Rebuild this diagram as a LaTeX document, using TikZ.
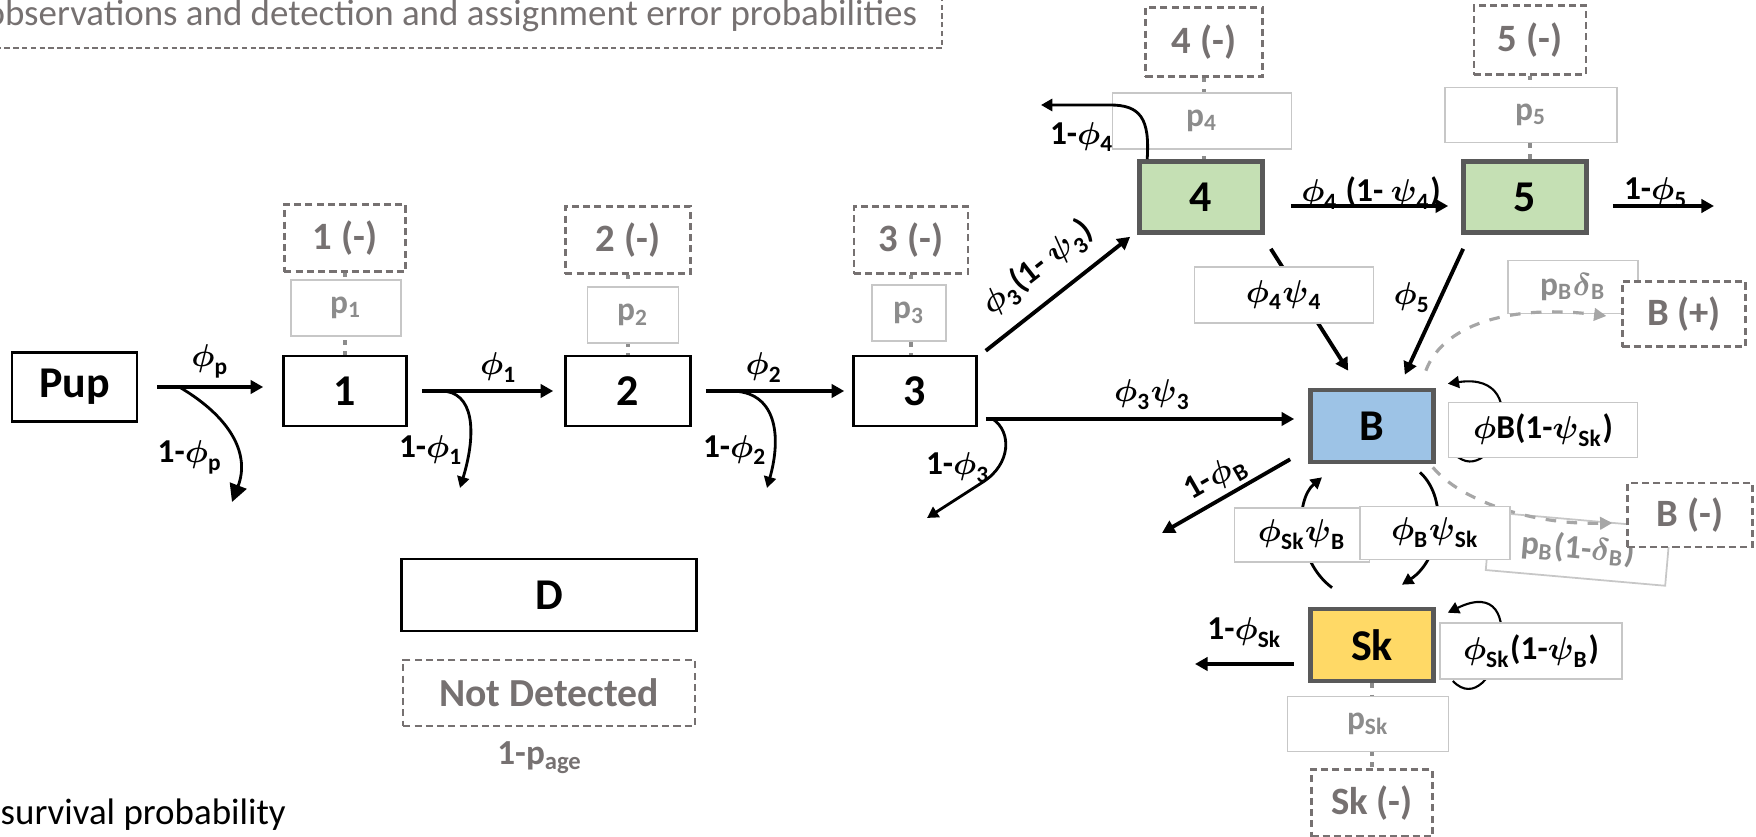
\documentclass[tikz,border=0pt]{standalone}
\usepackage{amsmath}
\usepackage{fontspec}
\setmainfont{Carlito}
\usepackage{tikz}
\usetikzlibrary{arrows.meta,calc}

\definecolor{stagegreen}{HTML}{C5E0B4}
\definecolor{breedblue}{HTML}{9DC3E6}
\definecolor{skipyellow}{HTML}{FFD966}
\definecolor{edgegray}{HTML}{595959}
\definecolor{obsgray}{HTML}{767171}
\definecolor{pgray}{HTML}{8C8C8C}

\newcommand{\phib}{\boldsymbol{\phi}}
\newcommand{\psib}{\boldsymbol{\psi}}
\newcommand{\deltab}{\boldsymbol{\delta}}

\begin{document}
\begin{tikzpicture}[
  x=0.01cm, y=-0.01cm,
  every node/.style={inner sep=1pt},
  state/.style={draw,line width=0.7pt,fill=white,minimum width=1.23cm,
                minimum height=0.70cm,font=\fontsize{12.5}{14}\selectfont\bfseries},
  stage/.style={state,draw=edgegray,line width=1.3pt},
  obs/.style={draw=obsgray,dash pattern=on 2pt off 1.2pt,line width=0.6pt,fill=white,
              text=obsgray,minimum width=1.21cm,minimum height=0.67cm,
              font=\fontsize{11}{13}\selectfont\bfseries},
  pbox/.style={draw=black!22,line width=0.5pt,fill=white,text=pgray,
               minimum height=0.56cm,font=\fontsize{9.5}{11}\selectfont\bfseries},
  tbox/.style={pbox,text=black},
  lab/.style={font=\fontsize{9.5}{11}\selectfont\bfseries},
  flow/.style={-{Triangle[length=3.6pt,width=3.8pt]},line width=1.1pt},
  backflow/.style={{Triangle[length=3.6pt,width=3.8pt]}-,line width=1.1pt},
  exit/.style={-{Triangle[length=3.2pt,width=3.4pt]},line width=0.8pt},
  selfloop/.style={-{Triangle[length=3.2pt,width=3.4pt]},line width=0.6pt},
  cross/.style={-{Triangle[length=3.2pt,width=3.4pt]},line width=0.8pt},
  link/.style={draw=pgray,line width=1.4pt,dash pattern=on 1.4pt off 1.8pt},
  detect/.style={draw=black!35,dashed,line width=0.9pt,
                 -{Triangle[length=3.5pt,width=3.5pt]}}
]
\useasboundingbox (0,0) rectangle (1756,837);

% legend texts
\node[draw=obsgray,dash pattern=on 1.5pt off 1pt,line width=0.5pt,anchor=south east,
      inner xsep=0.25cm,inner ysep=0.16cm,text=obsgray,
      font=\fontsize{10.5}{12}\selectfont] (title) at (943,49)
      {observations and detection and assignment error probabilities};
\node[anchor=base west,inner sep=0,font=\fontsize{10.5}{12}\selectfont] (note) at (0,825)
      {survival probability};

% states
\node[state,minimum width=1.25cm,minimum height=0.69cm] (pup) at (74.5,387) {Pup};
\node[state] (s1) at (345,391) {1};
\node[state,minimum width=1.25cm] (s2) at (628,391) {2};
\node[state] (s3) at (915,391) {3};
\node[stage,fill=stagegreen,minimum height=0.71cm] (s4) at (1201,197) {4};
\node[stage,fill=stagegreen,minimum height=0.71cm] (s5) at (1525,197) {5};
\node[stage,fill=breedblue,minimum height=0.72cm] (sB) at (1372,426) {B};
\node[stage,fill=skipyellow,minimum height=0.72cm] (sSk) at (1372,645) {Sk};
\node[state,minimum width=2.95cm,minimum height=0.72cm] (dead) at (549,595) {D};

% non-detections
\node[obs] (o1) at (345,238) {1 (-)};
\node[obs,minimum width=1.25cm] (o2) at (628,240) {2 (-)};
\node[obs,minimum width=1.14cm] (o3) at (911,240) {3 (-)};
\node[obs,minimum width=1.17cm,minimum height=0.69cm] (o4) at (1204,42) {4 (-)};
\node[obs,minimum width=1.12cm,minimum height=0.69cm] (o5) at (1530,40) {5 (-)};
\node[obs] (oSk) at (1372,803) {Sk (-)};
\node[obs,minimum width=2.91cm,minimum height=0.66cm,
      font=\fontsize{11.3}{13}\selectfont\bfseries] (nodet) at (549,693) {Not Detected};
\node[lab,text=obsgray,font=\fontsize{10}{12}\selectfont\bfseries] (page) at (540,758)
      {1-p\textsubscript{age}};

\draw[link] (o1) -- (s1);
\draw[link] (o2) -- (s2);
\draw[link] (o3) -- (o3 |- s3.north);
\draw[link] (o4) -- (o4 |- s4.north);
\draw[link] (o5) -- (o5 |- s5.north);
\draw[link] (sSk) -- (oSk);

% detection probabilities
\node[pbox,minimum width=1.10cm] (p1) at (346,308) {p\textsubscript{1}};
\node[pbox,minimum width=0.91cm] (p2) at (633,315) {p\textsubscript{2}};
\node[pbox,minimum width=0.74cm] (p3) at (909,313) {p\textsubscript{3}};
\node[pbox,minimum width=1.79cm] (p4) at (1202,121) {p\textsubscript{4}};
\node[pbox,minimum width=1.72cm,minimum height=0.55cm] (p5) at (1531,115) {p\textsubscript{5}};
\node[pbox,minimum width=1.61cm,minimum height=0.55cm] (pSk) at (1368,724) {p\textsubscript{Sk}};
\node[pbox,minimum width=1.30cm,minimum height=0.53cm] (pdet) at (1573,287)
      {p\textsubscript{B}$\deltab_{\text{B}}$};
\node[pbox,rotate=-5,minimum width=1.80cm,minimum height=0.58cm] (pmis) at (1578,549)
      {p\textsubscript{B}(1-$\deltab_{\text{B}}$)};

% breeder assignment
\node[obs,minimum width=1.23cm,minimum height=0.65cm] (oBp) at (1684,314) {B (+)};
\node[obs,minimum width=1.25cm,minimum height=0.64cm] (oBm) at (1690,515) {B (-)};

% loose ends
\coordinate (dp) at (232,502);
\coordinate (d1) at (460,488);
\coordinate (d2) at (767,488);
\coordinate (d3) at (927,518);
\coordinate (d4) at (1041,105);
\coordinate (d5) at (1714,206);
\coordinate (dB) at (1162,533);
\coordinate (dSk) at (1195,664);

% survival along the chain
\draw[flow,shorten <=0.19cm,shorten >=0.19cm] (pup.east) -- (pup.east -| s1.west)
  node[lab,midway,above=1pt] (lp) {$\phib_{\text{p}}$};
\draw[flow,shorten <=0.14cm,shorten >=0.11cm] (s1.east) -- (s2.west)
  node[lab,pos=0.58,above=1pt] (l1) {$\phib_{\text{1}}$};
\draw[flow,shorten <=0.14cm,shorten >=0.08cm] (s2.east) -- (s3.west)
  node[lab,pos=0.45,above=1pt] (l2) {$\phib_{\text{2}}$};

\draw[exit,-{Triangle[length=5pt,width=5pt]}] ($(pup.east)+(41,0)$)
  .. controls (232,418) and (250,455) .. (dp);
\draw[exit] ($(s1.east)+(33,0)$) .. controls (474,391) and (477,432) .. (d1);
\draw[exit] ($(s2.east)+(39,0)$) .. controls (776,391) and (782,435) .. (d2);
\draw[exit] ($(s3.east)+(15,28)$) .. controls (1012,432) and (1011,464) .. (983,482) -- (d3);
\draw[exit] ($(s4.north west)+(10,0)$) .. controls (1150,118) and (1140,105) .. (1110,105) -- (d4);

\node[lab] (lxp) at (190,457) {1-$\phib_{\text{p}}$};
\node[lab] (lx1) at (431,450) {1-$\phib_{\text{1}}$};
\node[lab] (lx2) at (735,450) {1-$\phib_{\text{2}}$};
\node[lab] (lx3) at (958,468) {1-$\phib_{\text{3}}$};
\node[lab] (lx4) at (1082,137) {1-$\phib_{\text{4}}$};

% transitions out of 3, 4 and 5
\draw[flow] ($(s3.north east)+(8,-4)$) -- ($(s4.south west)+(-7,2)$)
  node[lab,midway,sloped,above=3pt] (l34) {$\phib_{\text{3}}$(1- $\psib_{\text{3}}$)};
\draw[flow] ($(s3.east)+(8,28)$) -- ($(sB.west)+(-14,-7)$)
  node[lab,pos=0.54,above=1pt] (l3B) {$\phib_{\text{3}}\psib_{\text{3}}$};
\draw[flow] ($(s4.east)+(26,9)$) -- ($(s5.west)+(-13,9)$);
\node[lab] (l45) at (1371,193) {$\phib_{\text{4}}$ (1- $\psib_{\text{4}}$)};
\draw[flow] ($(s5.east)+(24,9)$) -- (d5);
\node[lab] (lx5) at (1656,193) {1-$\phib_{\text{5}}$};
\draw[flow] ($(s4.south east)+(6,14)$) -- ($(sB.north west)+(40,-17)$);
\draw[flow] ($(s5.south west)+(2,14)$) -- ($(sB.north east)+(-31,-13)$);
\node[lab] (l5B) at (1412,298) {$\phib_{\text{5}}$};

% breeder and skipper
\draw[backflow] (dB) -- ($(sB.south west)+(-18,-5)$)
  node[lab,midway,sloped,above=0pt] (lxB) {1-$\phib_{\text{B}}$};
\draw[backflow] (dSk) -- ($(sSk.west)+(-14,19)$)
  node[lab,midway,above=3pt] (lxSk) {1-$\phib_{\text{Sk}}$};

\draw[selfloop] ($(sB.east)+(15,24)$) .. controls (1490,500) and (1540,370)
  .. ($(sB.north east)+(12,-4)$);
\draw[selfloop] ($(sSk.east)+(17,36)$) .. controls (1495,725) and (1535,570)
  .. ($(sSk.north east)+(12,6)$);
\draw[cross] ($(sB.south)+(48,8)$) .. controls (1450,500) and (1440,560)
  .. ($(sSk.north)+(30,-22)$);
\draw[cross] ($(sSk.north)+(-40,-19)$) .. controls (1295,560) and (1295,500)
  .. ($(sB.south)+(-50,13)$);

\draw[detect] ($(sB.north east)+(-10,-17)$) .. controls (1445,320) and (1520,305)
  .. ($(oBp.west)+(-15,2)$);
\draw[detect] ($(sB.south east)+(-3,3)$) .. controls (1460,500) and (1530,525)
  .. ($(oBm.west)+(-14,8)$);

% boxed labels on top
\node[tbox,minimum width=1.79cm] (t44) at (1284,295) {$\phib_{\text{4}}\psib_{\text{4}}$};
\node[tbox,minimum width=1.89cm,minimum height=0.55cm] (tBB) at (1543,430)
  {$\phib$B(1-$\psib_{\text{Sk}}$)};
\node[tbox,minimum width=1.35cm,minimum height=0.54cm] (tSkB) at (1302,535)
  {$\phib_{\text{Sk}}\psib_{\text{B}}$};
\node[tbox,minimum width=1.50cm,minimum height=0.53cm] (tBSk) at (1435,533)
  {$\phib_{\text{B}}\psib_{\text{Sk}}$};
\node[tbox,minimum width=1.82cm] (tSkSk) at (1531,651)
  {$\phib_{\text{Sk}}$(1-$\psib_{\text{B}}$)};
\end{tikzpicture}
\end{document}
